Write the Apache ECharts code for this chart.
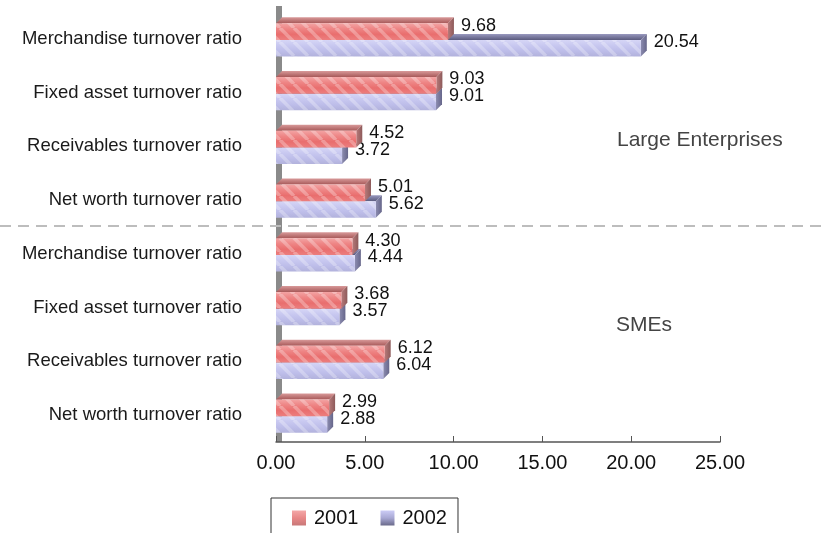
<!DOCTYPE html>
<html>
<head>
<meta charset="utf-8">
<script src="https://cdn.jsdelivr.net/npm/echarts@6/dist/echarts.min.js"></script>
<style>
  html, body { margin: 0; padding: 0; background: #fff; }
  #chart { width: 822px; height: 533px; }
</style>
</head>
<body>
<div id="chart"></div>
<script>
// categories, top to bottom
var categories = [
  "Merchandise turnover ratio",
  "Fixed asset turnover ratio",
  "Receivables turnover ratio",
  "Net worth turnover ratio",
  "Merchandise turnover ratio",
  "Fixed asset turnover ratio",
  "Receivables turnover ratio",
  "Net worth turnover ratio"
];
var years = ["2001", "2002"];
var values2001 = [9.68, 9.03, 4.52, 5.01, 4.30, 3.68, 6.12, 2.99];
var values2002 = [20.54, 9.01, 3.72, 5.62, 4.44, 3.57, 6.04, 2.88];
var xTicks = [0, 5, 10, 15, 20, 25];

var FONT = "'Liberation Sans', Arial, sans-serif";

// diagonal stripe pattern for the bar faces
var stripe = document.createElement("canvas");
stripe.width = 14; stripe.height = 14;
(function () {
  var c = stripe.getContext("2d");
  c.strokeStyle = "rgba(255,255,255,0.28)";
  c.lineWidth = 3.5;
  for (var k = -14; k <= 28; k += 14) {
    c.beginPath();
    c.moveTo(k, 0);
    c.lineTo(k + 14, 14);
    c.stroke();
  }
})();

var looks = {
  "2001": {
    front: ["#f3a4a4", "#ee8585", "#e96e6e", "#ec7e7e"],
    top: ["#d99a9a", "#a85a5a"],
    side: ["#b77a7a", "#8d5a5a"]
  },
  "2002": {
    front: ["#d6d6f6", "#c8c8f0", "#bdbde9", "#b2b2dc"],
    top: ["#9a9ac0", "#5c5c80"],
    side: ["#8c8cb0", "#66668a"]
  }
};

function grad(stops, vertical) {
  var cs = stops.map(function (c, i) { return { offset: i / (stops.length - 1), color: c }; });
  return new echarts.graphic.LinearGradient(0, 0, vertical ? 0 : 1, vertical ? 1 : 0, cs);
}

function makeRender(year, slot) {
  var lk = looks[year];
  return function (params, api) {
    var cat = api.value(1), val = api.value(0);
    var p0 = api.coord([0, cat]);
    var p1 = api.coord([val, cat]);
    var h = 16.7, d = 6;
    var x0 = p0[0], x1 = p1[0];
    var y0 = p0[1] - h + 1 + slot * h;
    var y1 = y0 + h;
    return {
      type: "group",
      children: [
        { type: "polygon", shape: { points: [[x0, y0], [x1, y0], [x1 + d, y0 - d], [x0 + d, y0 - d]] },
          style: { fill: grad(lk.top, true) } },
        { type: "polygon", shape: { points: [[x1, y0], [x1 + d, y0 - d], [x1 + d, y1 - d], [x1, y1]] },
          style: { fill: grad(lk.side, false) } },
        { type: "rect", shape: { x: x0, y: y0, width: x1 - x0, height: h },
          style: { fill: grad(lk.front, true) } },
        { type: "rect", shape: { x: x0, y: y0, width: x1 - x0, height: h },
          style: { fill: { image: stripe, repeat: "repeat" } } },
        { type: "text", x: x1 + d + 7, y: y0 + 2.5,
          style: { text: val.toFixed(2), fill: "#111", font: "18px " + FONT,
                   verticalAlign: "middle", align: "left" } }
      ]
    };
  };
}

var chart = echarts.init(document.getElementById("chart"));
chart.setOption({
  backgroundColor: "#ffffff",
  animation: false,
  grid: { left: 276, right: 102, top: 12, bottom: 91 },
  xAxis: {
    type: "value", min: 0, max: 25, interval: 5,
    axisLine: { show: true, lineStyle: { color: "#555", width: 1.5 } },
    axisTick: { show: true, inside: true, length: 6, lineStyle: { color: "#555" } },
    splitLine: { show: false },
    axisLabel: {
      margin: 11, color: "#111", fontSize: 20, fontFamily: FONT,
      formatter: function (v) { return xTicks.indexOf(v) >= 0 ? v.toFixed(2) : ""; }
    }
  },
  yAxis: {
    type: "category", inverse: true,
    data: categories.map(function (c, i) { return String(i); }),
    axisLine: { show: false }, axisTick: { show: false },
    axisLabel: {
      margin: 34, color: "#1a1a1a", fontSize: 18.5, fontFamily: FONT,
      formatter: function (v, i) { return categories[i]; }
    }
  },
  legend: {
    data: [
      { name: "2001", itemStyle: { color: grad(["#f4a8a8", "#e88888", "#c87878"], true) } },
      { name: "2002", itemStyle: { color: grad(["#ccccf6", "#a8a8d4", "#6a6a8a"], true) } }
    ],
    left: 271, top: 498,
    orient: "horizontal",
    icon: "rect", itemWidth: 14, itemHeight: 15, itemGap: 22,
    padding: [10, 11, 30, 21],
    borderColor: "#333", borderWidth: 1, borderRadius: 0,
    textStyle: { color: "#111", fontSize: 20, fontFamily: FONT, padding: [0, 0, 0, 3] }
  },
  graphic: [
    { type: "rect", z: 0, shape: { x: 276, y: 6, width: 6, height: 436 }, style: { fill: "#8a8a8a" } },
    { type: "line", z: 10, shape: { x1: 0, y1: 226, x2: 822, y2: 226 },
      style: { stroke: "#bdbdbd", lineWidth: 2, lineDash: [11, 7] } },
    { type: "text", z: 10, left: 617, top: 130,
      style: { text: "Large Enterprises", fill: "#444", font: "21px " + FONT } },
    { type: "text", z: 10, left: 616, top: 315,
      style: { text: "SMEs", fill: "#444", font: "21px " + FONT } }
  ],
  series: [
    {
      name: "2002", type: "custom", z: 3, coordinateSystem: "cartesian2d",
      encode: { x: 0, y: 1 },
      renderItem: makeRender("2002", 1),
      data: values2002.map(function (v, i) { return [v, i]; })
    },
    {
      name: "2001", type: "custom", z: 4, coordinateSystem: "cartesian2d",
      encode: { x: 0, y: 1 },
      renderItem: makeRender("2001", 0),
      data: values2001.map(function (v, i) { return [v, i]; })
    }
  ]
});
</script>
</body>
</html>
